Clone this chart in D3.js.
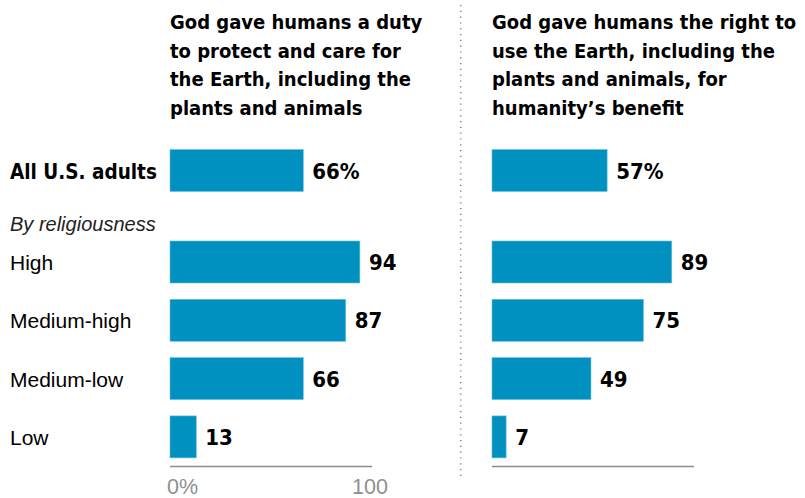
<!DOCTYPE html>
<html>
<head>
<meta charset="utf-8">
<script src="https://cdn.jsdelivr.net/npm/d3@7"></script>
<style>
  body { margin: 0; background: #fff; }
  text { font-family: "Liberation Sans", Arial, sans-serif; }
  .heavy { font-family: "DejaVu Sans Condensed", "DejaVu Sans", sans-serif; font-stretch: condensed; font-weight: bold; }
</style>
</head>
<body>
<div class="chart"></div>
<script>
// data
const categories = ["All U.S. adults", "High", "Medium-high", "Medium-low", "Low"];
const dutyValues = [66, 94, 87, 66, 13];
const rightValues = [57, 89, 75, 49, 7];
const panelTitles = [
    ["God gave humans a duty", "to protect and care for", "the Earth, including the", "plants and animals"],
    ["God gave humans the right to", "use the Earth, including the", "plants and animals, for", "humanity\u2019s benefit"]
];
const tickLabels = ["0%", "100"];
const groupLabel = "By religiousness";

const width = 805, height = 498;
const barColor = "#0091c1";

const svg = d3.select(".chart").append("svg")
    .attr("width", width)
    .attr("height", height);

// row tops: first row, then a gap for the "By religiousness" label
const rowTop = k => {
    if (k === "All U.S. adults") return 149.5;
    return 241 + (categories.indexOf(k) - 1) * 58.3;
};
const barH = 42;

const panels = [
    { values: dutyValues, x0: 170, title: panelTitles[0], ticks: true },
    { values: rightValues, x0: 492, title: panelTitles[1], ticks: false }
];

panels.forEach((p, pi) => {
    const x = d3.scaleLinear().domain([0, 100]).range([p.x0, p.x0 + 202]);

    // title
    const t = svg.append("text")
        .attr("class", "heavy")
        .attr("x", p.x0)
        .attr("y", 29)
        .attr("font-size", 20)
        .attr("fill", "#000");
    p.title.forEach((line, i) => {
        t.append("tspan").attr("x", p.x0).attr("dy", i === 0 ? 0 : 28.7).text(line);
    });

    const g = svg.append("g");
    g.selectAll("rect")
        .data(p.values)
        .enter()
        .append("rect")
        .attr("x", x(0))
        .attr("y", (d, i) => rowTop(categories[i]))
        .attr("width", d => x(d) - x(0))
        .attr("height", barH)
        .attr("fill", barColor)
        .attr("stroke", "#6cc0e0")
        .attr("stroke-width", 0.6);

    g.selectAll("text.valueText")
        .data(p.values)
        .enter()
        .append("text")
        .attr("class", "valueText heavy")
        .attr("x", d => x(d) + 9)
        .attr("y", (d, i) => rowTop(categories[i]) + barH / 2 + 8)
        .attr("font-size", 22)
        .attr("fill", "#000")
        .text((d, i) => i === 0 ? d + "%" : d);

    // baseline axis
    svg.append("line")
        .attr("x1", x(0))
        .attr("x2", x(100))
        .attr("y1", 466.5)
        .attr("y2", 466.5)
        .attr("stroke", "#8c8c8c")
        .attr("stroke-width", 1.3);

    if (p.ticks) {
        svg.append("text")
            .attr("x", x(0) - 3)
            .attr("y", 494)
            .attr("font-size", 21.5)
            .attr("fill", "#8f8f8f")
            .text(tickLabels[0]);
        svg.append("text")
            .attr("x", x(100) - 2)
            .attr("y", 494)
            .attr("text-anchor", "middle")
            .attr("font-size", 21.5)
            .attr("fill", "#8f8f8f")
            .text(tickLabels[1]);
    }
});

// row labels
svg.selectAll("text.rowLabel")
    .data(categories)
    .enter()
    .append("text")
    .attr("class", d => d === "All U.S. adults" ? "rowLabel heavy" : "rowLabel")
    .attr("x", 10)
    .attr("y", d => rowTop(d) + barH / 2 + 8)
    .attr("font-size", d => d === "All U.S. adults" ? 20.5 : 21)
    .attr("fill", "#000")
    .text(d => d);

svg.append("text")
    .attr("x", 10)
    .attr("y", 231)
    .attr("font-size", 20)
    .attr("font-style", "italic")
    .attr("fill", "#222")
    .text(groupLabel);

// dotted divider
svg.append("line")
    .attr("x1", 460.7)
    .attr("x2", 460.7)
    .attr("y1", 5)
    .attr("y2", 478)
    .attr("stroke", "#888")
    .attr("stroke-width", 1.6)
    .attr("stroke-dasharray", "1.2,4.6");
</script>
</body>
</html>
